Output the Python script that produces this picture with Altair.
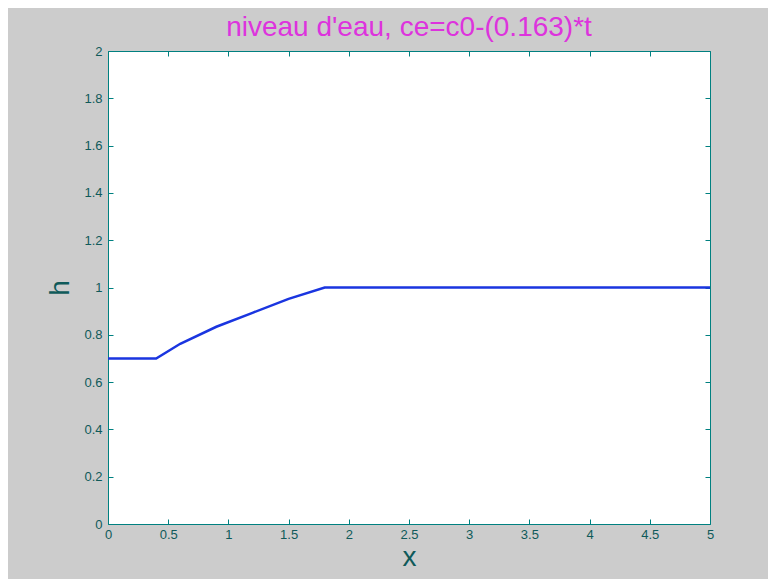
import altair as alt
import pandas as pd

# data
x_vals = [0.0, 0.4, 0.6, 0.9, 1.2, 1.5, 1.8, 5.0]
h_vals = [0.70, 0.70, 0.762, 0.834, 0.893, 0.952, 1.0, 1.0]
x_ticks = [0, 0.5, 1, 1.5, 2, 2.5, 3, 3.5, 4, 4.5, 5]
y_ticks = [0, 0.2, 0.4, 0.6, 0.8, 1, 1.2, 1.4, 1.6, 1.8, 2]

df = pd.DataFrame({"x": x_vals, "h": h_vals})

AX = "#008080"
LBL = "#0f5a5a"
FONT = "Liberation Sans"

def axis_common(**kw):
    return dict(
        grid=False, domain=False, tickColor=AX, tickSize=5, tickWidth=1,
        offset=-5, labelFont=FONT, labelFontSize=13, labelColor=LBL,
        format="~g",
        titleFont=FONT, titleFontWeight="normal", titleColor=LBL, **kw)

base = alt.Chart(df)

main = base.mark_line(color="#1a35e0", strokeWidth=2.5, clip=False).encode(
    x=alt.X("x:Q", scale=alt.Scale(domain=[0, 5], nice=False, zero=False),
            axis=alt.Axis(orient="bottom", values=x_ticks, title="x",
                          titleFontSize=28, titlePadding=2, labelPadding=4,
                          labelFlush=False, labelOverlap=False,
                          **axis_common())),
    y=alt.Y("h:Q", scale=alt.Scale(domain=[0, 2], nice=False),
            axis=alt.Axis(orient="left", values=y_ticks, title="h",
                          titleFontSize=28, titlePadding=9, labelPadding=6,
                          labelFlush=False, labelOverlap=False,
                          **axis_common())),
)

mirror = base.mark_line(opacity=0).encode(
    x=alt.X("x:Q", scale=alt.Scale(domain=[0, 5], nice=False, zero=False),
            axis=alt.Axis(orient="top", values=x_ticks, labels=False, title=None,
                          **axis_common())),
    y=alt.Y("h:Q", scale=alt.Scale(domain=[0, 2], nice=False),
            axis=alt.Axis(orient="right", values=y_ticks, labels=False, title=None,
                          **axis_common())),
)

chart = alt.layer(main, mirror).resolve_axis(
    x="independent", y="independent"
).properties(
    width=602,
    height=473,
    autosize=alt.AutoSizeParams(type="none"),
    padding={"left": 100, "top": 43, "right": 58, "bottom": 55},
    background="#cccccc",
    title=alt.TitleParams(
        "niveau d'eau, ce=c0-(0.163)*t",
        font=FONT, fontSize=28, fontWeight="normal", color="#dd33dd",
        anchor="middle", offset=3,
    ),
).configure_view(stroke=AX, strokeWidth=1, fill="white")

chart.save("out.html", embed_options={"renderer": "svg", "actions": False})
